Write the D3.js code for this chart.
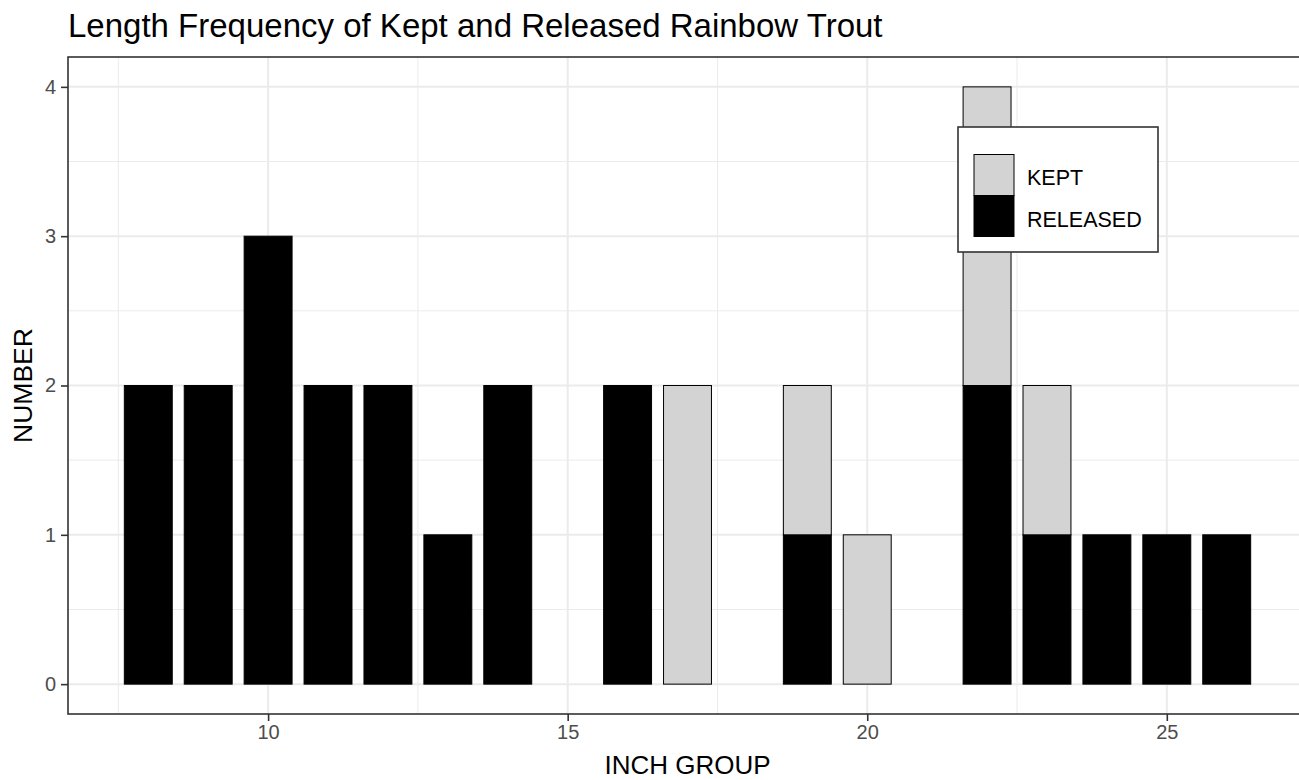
<!DOCTYPE html>
<html>
<head>
<meta charset="utf-8">
<script src="https://cdn.jsdelivr.net/npm/d3@7"></script>
<style>
  html, body { margin: 0; padding: 0; background: #fff; }
  svg { display: block; font-family: "Liberation Sans", Arial, sans-serif; }
</style>
</head>
<body>
<svg id="chart" width="1299" height="780"></svg>
<script>
// ---- data ----
const inchGroups = [8, 9, 10, 11, 12, 13, 14, 16, 17, 19, 20, 22, 23, 24, 25, 26];
const released   = [2, 2, 3, 2, 2, 1, 2, 2, 0, 1, 0, 2, 1, 1, 1, 1];
const kept       = [0, 0, 0, 0, 0, 0, 0, 0, 2, 1, 1, 2, 1, 0, 0, 0];
const seriesNames = ["RELEASED", "KEPT"];
const legendOrder = ["KEPT", "RELEASED"];
const xTicks = [10, 15, 20, 25];
const yTicks = [0, 1, 2, 3, 4];
const titleText = "Length Frequency of Kept and Released Rainbow Trout";
const xTitle = "INCH GROUP";
const yTitle = "NUMBER";

// ---- layout ----
const panel = { left: 68, top: 57, right: 1307, bottom: 714 };
const barWidth = 0.8;
const colors = { KEPT: "#D3D3D3", RELEASED: "#000000" };

const rows = inchGroups.map((g, i) => ({ group: g, RELEASED: released[i], KEPT: kept[i] }));
const stacked = d3.stack().keys(seriesNames)(rows);

const xMin = d3.min(inchGroups) - barWidth / 2, xMax = d3.max(inchGroups) + barWidth / 2;
const xPad = (xMax - xMin) * 0.05;
const yMaxVal = d3.max(rows, d => d.RELEASED + d.KEPT);
const yPad = yMaxVal * 0.05;

const x = d3.scaleLinear().domain([xMin - xPad, xMax + xPad]).range([panel.left, panel.right]);
const y = d3.scaleLinear().domain([-yPad, yMaxVal + yPad]).range([panel.bottom, panel.top]);

const svg = d3.select("#chart");

// panel background
svg.append("rect").attr("x", panel.left).attr("y", panel.top)
  .attr("width", panel.right - panel.left).attr("height", panel.bottom - panel.top)
  .attr("fill", "#fff");

// grid
const grid = svg.append("g");
const xMinor = d3.range(7.5, 28, 5).filter(v => v > x.domain()[0] && v < x.domain()[1]);
const yMinor = d3.range(0.5, 4, 1);
grid.selectAll(".xminor").data(xMinor).join("line")
  .attr("x1", d => x(d)).attr("x2", d => x(d)).attr("y1", panel.top).attr("y2", panel.bottom)
  .attr("stroke", "#EBEBEB").attr("stroke-width", 1);
grid.selectAll(".yminor").data(yMinor).join("line")
  .attr("y1", d => y(d)).attr("y2", d => y(d)).attr("x1", panel.left).attr("x2", panel.right)
  .attr("stroke", "#EBEBEB").attr("stroke-width", 1);
grid.selectAll(".xmajor").data(xTicks).join("line")
  .attr("x1", d => x(d)).attr("x2", d => x(d)).attr("y1", panel.top).attr("y2", panel.bottom)
  .attr("stroke", "#EBEBEB").attr("stroke-width", 2);
grid.selectAll(".ymajor").data(yTicks).join("line")
  .attr("y1", d => y(d)).attr("y2", d => y(d)).attr("x1", panel.left).attr("x2", panel.right)
  .attr("stroke", "#EBEBEB").attr("stroke-width", 2);

// bars
const barsG = svg.append("g");
stacked.forEach(layer => {
  barsG.selectAll(null).data(layer.filter(d => d[1] - d[0] > 0)).join("rect")
    .attr("x", d => x(d.data.group - barWidth / 2))
    .attr("width", d => x(d.data.group + barWidth / 2) - x(d.data.group - barWidth / 2))
    .attr("y", d => y(d[1]))
    .attr("height", d => y(d[0]) - y(d[1]))
    .attr("fill", colors[layer.key])
    .attr("stroke", "#000")
    .attr("stroke-width", 1);
});

// panel border
svg.append("rect").attr("x", panel.left).attr("y", panel.top)
  .attr("width", panel.right - panel.left).attr("height", panel.bottom - panel.top)
  .attr("fill", "none").attr("stroke", "#333333").attr("stroke-width", 1.6);

// axes
const xAxis = d3.axisBottom(x).tickValues(xTicks).tickSize(7).tickPadding(4).tickFormat(d3.format("d"));
const yAxis = d3.axisLeft(y).tickValues(yTicks).tickSize(7).tickPadding(5).tickFormat(d3.format("d"));
const gx = svg.append("g").attr("transform", `translate(0,${panel.bottom})`).call(xAxis);
const gy = svg.append("g").attr("transform", `translate(${panel.left},0)`).call(yAxis);
[gx, gy].forEach(g => {
  g.select(".domain").remove();
  g.selectAll(".tick line").attr("stroke", "#333333").attr("stroke-width", 1.6);
  g.selectAll(".tick text").attr("fill", "#4D4D4D").style("font-size", "20px")
    .style("font-family", '"Liberation Sans", Arial, sans-serif');
});

// titles
svg.append("text").attr("x", panel.left).attr("y", 37)
  .attr("fill", "#000").style("font-size", "33px").text(titleText);
svg.append("text").attr("x", (panel.left + panel.right) / 2).attr("y", 774)
  .attr("text-anchor", "middle").attr("fill", "#000").style("font-size", "26px").text(xTitle);
svg.append("text").attr("transform", `translate(32,${(panel.top + panel.bottom) / 2}) rotate(-90)`)
  .attr("text-anchor", "middle").attr("fill", "#000").style("font-size", "26.5px").text(yTitle);

// legend
const lg = svg.append("g").attr("transform", "translate(958,127)");
lg.append("rect").attr("x", 0).attr("y", 0).attr("width", 200).attr("height", 125)
  .attr("fill", "#fff").attr("stroke", "#333333").attr("stroke-width", 1.6);
legendOrder.forEach((k, i) => {
  lg.append("rect").attr("x", 16).attr("y", 27.5 + i * 41).attr("width", 40).attr("height", 41)
    .attr("fill", colors[k]).attr("stroke", "#000").attr("stroke-width", 1);
  lg.append("text").attr("x", 69).attr("y", 58 + i * 41.5)
    .attr("fill", "#000").style("font-size", "21.5px").text(k);
});
</script>
</body>
</html>
